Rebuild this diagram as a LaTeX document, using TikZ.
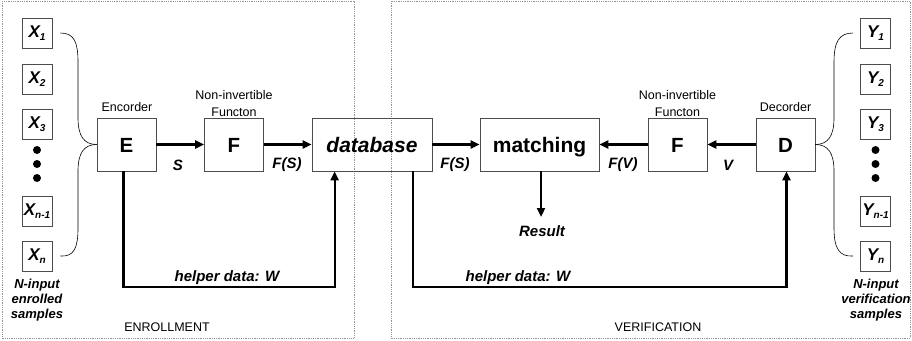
\documentclass[tikz,border=0pt]{standalone}
\usepackage{fontspec}
\setmainfont{Liberation Sans}
\usetikzlibrary{arrows.meta,calc}
\newcommand{\smpsub}[2]{#1\raisebox{-3pt}{\fontsize{10}{10}\selectfont #2}}
\begin{document}
\begin{tikzpicture}[x=1pt,y=-1pt,
  panel/.style={draw=gray!85, densely dotted, line width=0.8pt},
  blk/.style={draw=black!70, line width=0.8pt, minimum width=59pt, minimum height=53pt, inner sep=0pt, text height=15pt, text depth=0pt, font=\fontsize{20.5}{20.5}\selectfont\bfseries},
  smp/.style={draw=black!70, line width=0.8pt, minimum width=30pt, minimum height=30pt, inner sep=0pt, font=\fontsize{17}{17}\selectfont\bfseries\itshape},
  flow/.style={line width=2.2pt, -{Triangle[length=9pt,width=8pt]}},
  lbl/.style={font=\fontsize{15}{15}\selectfont\bfseries\itshape, inner sep=0pt},
  smalltxt/.style={font=\fontsize{12.5}{16.5}\selectfont, align=center, inner sep=0pt},
  sidetxt/.style={font=\fontsize{13}{15}\selectfont\bfseries\itshape, align=center, inner sep=0pt},
  bracecurve/.style={line width=0.6pt},
]
\useasboundingbox (0,0) rectangle (912,340);
% panels
\draw[panel] (2,1) rectangle (354,338);
\draw[panel] (391,1) rectangle (910,338);
\node[smalltxt] (enr) at (167,327) {ENROLLMENT};
\node[smalltxt] (ver) at (658,327) {VERIFICATION};

% main blocks
\node[blk] (E) at (126.5,144.5) {E};
\node[blk] (F1) at (234,144.5) {F};
\node[blk, minimum width=120pt, font=\fontsize{21}{21}\selectfont\bfseries\itshape] (db) at (372,144.5) {database};
\node[blk, minimum width=119pt, font=\fontsize{21}{21}\selectfont\bfseries] (match) at (539.5,144.5) {matching};
\node[blk] (F2) at (677.5,144.5) {F};
\node[blk] (D) at (785.5,144.5) {D};

\node[smalltxt] (encl) at (127,107) {Encorder};
\node[smalltxt] (f1l) at (234,103.5) {Non-invertible\\Functon};
\node[smalltxt] (f2l) at (677.5,103.5) {Non-invertible\\Functon};
\node[smalltxt] (decl) at (785.5,107) {Decorder};

% sample boxes
\node[smp] (X1) at (37,33) {\smpsub{X}{1}};
\node[smp] (X2) at (37,79) {\smpsub{X}{2}};
\node[smp] (X3) at (37,124) {\smpsub{X}{3}};
\node[smp] (Xm) at (37,211) {\smpsub{X}{n-1}};
\node[smp] (Xn) at (37,256) {\smpsub{X}{n}};
\node[smp] (Y1) at (875.5,33) {\smpsub{Y}{1}};
\node[smp] (Y2) at (875.5,79) {\smpsub{Y}{2}};
\node[smp] (Y3) at (875.5,124) {\smpsub{Y}{3}};
\node[smp] (Ym) at (875.5,211) {\smpsub{Y}{n-1}};
\node[smp] (Yn) at (875.5,256) {\smpsub{Y}{n}};
\foreach \yy in {150,164,178} {
  \fill (37,\yy) circle (4pt);
  \fill (875.5,\yy) circle (4pt);
}
\node[sidetxt] (nl) at (37,300) {N-input\\enrolled\\samples};
\node[sidetxt] (nr) at (876,300) {N-input\\verification\\samples};

% braces
\draw[bracecurve] ($(X1.east)+(8,0)$) .. controls (74,33) and (78,42) .. (78,62) -- (78,118) .. controls (78,136) and (84,144.5) .. (E.west);
\draw[bracecurve] ($(Xn.east)+(8,0)$) .. controls (74,257) and (78,248) .. (78,228) -- (78,171) .. controls (78,153) and (84,144.5) .. (E.west);
\draw[bracecurve] ($(Y1.west)+(-7,0)$) .. controls (839,33) and (834,42) .. (834,62) -- (834,118) .. controls (834,136) and (828,144.5) .. (D.east);
\draw[bracecurve] ($(Yn.west)+(-7,0)$) .. controls (839,257) and (834,248) .. (834,228) -- (834,171) .. controls (834,153) and (828,144.5) .. (D.east);

% flows
\draw[flow] (E) -- (F1);
\draw[flow] (F1) -- (db);
\draw[flow] (db) -- (match);
\draw[flow] (F2) -- (match);
\draw[flow] (D) -- (F2);
\node[lbl] (ls) at (178,165) {S};
\node[lbl] (lfs1) at (287,165) {F(S)};
\node[lbl] (lfs2) at (455,165) {F(S)};
\node[lbl] (lfv) at (623,165) {F(V)};
\node[lbl] (lv) at (728,165) {V};

% result
\coordinate (resend) at (541,217);
\draw[flow] (match.south -| resend) -- (resend);
\node[lbl] (res) at (542,231) {Result};

% helper data
\draw[flow] ($(E.south)+(-3,0)$) |- ($(db.south west)+(23,115.5)$) -- ($(db.south west)+(23,0)$);
\draw[flow] ($(db.south west)+(101,0)$) |- ($(D.south)+(1,115.5)$) -- ($(D.south)+(1,0)$);
\node[lbl] (hl) at (227,278) {helper data: W};
\node[lbl] (hr) at (518,278) {helper data: W};
\end{tikzpicture}
\end{document}
